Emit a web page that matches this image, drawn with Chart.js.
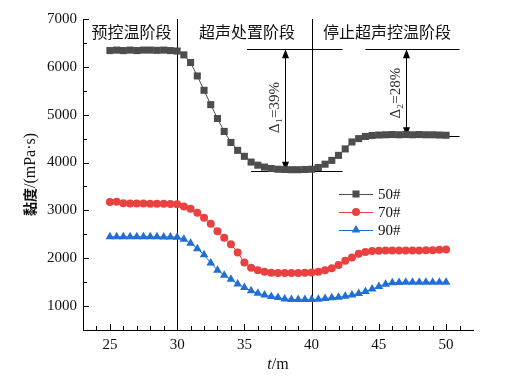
<!DOCTYPE html>
<html>
<head>
<meta charset="utf-8">
<script src="https://cdn.jsdelivr.net/npm/chart.js@4.4.1/dist/chart.umd.min.js"></script>
<style>
  html, body { margin: 0; padding: 0; background: #fff; }
  #wrap { width: 512px; height: 378px; }
</style>
</head>
<body>
<div id="wrap"><canvas id="chart"></canvas></div>
<script>
// time axis (m)
const times = [25, 25.5, 26, 26.5, 27, 27.5, 28, 28.5, 29, 29.5,
               30, 30.5, 31, 31.5, 32, 32.5, 33, 33.5, 34, 34.5,
               35, 35.5, 36, 36.5, 37, 37.5, 38, 38.5, 39, 39.5,
               40, 40.5, 41, 41.5, 42, 42.5, 43, 43.5, 44, 44.5,
               45, 45.5, 46, 46.5, 47, 47.5, 48, 48.5, 49, 49.5, 50];

// viscosity, mPa·s
const visc50 = [6340, 6350, 6340, 6350, 6340, 6350, 6350, 6345, 6350, 6340,
                6330, 6250, 6090, 5810, 5510, 5210, 4920, 4650, 4420, 4255,
                4130, 4010, 3945, 3905, 3875, 3860, 3855, 3850, 3850, 3855,
                3860, 3895, 3965, 4045, 4150, 4285, 4430, 4500, 4545, 4565,
                4575, 4580, 4585, 4580, 4585, 4580, 4585, 4580, 4580, 4575, 4570];
const visc70 = [3175, 3180, 3150, 3145, 3145, 3145, 3140, 3140, 3140, 3135,
                3130, 3080, 3035, 2950, 2845, 2720, 2565, 2430, 2290, 2120,
                1910, 1800, 1750, 1715, 1695, 1690, 1690, 1690, 1690, 1695,
                1700, 1715, 1750, 1790, 1860, 1945, 2015, 2095, 2130, 2150,
                2155, 2160, 2160, 2160, 2160, 2160, 2160, 2165, 2165, 2175, 2185];
const visc90 = [2450, 2450, 2450, 2450, 2450, 2450, 2450, 2450, 2445, 2445,
                2440, 2395, 2315, 2200, 2075, 1900, 1750, 1645, 1560, 1460,
                1390, 1320, 1270, 1230, 1200, 1180, 1150, 1140, 1135, 1135,
                1135, 1145, 1160, 1175, 1185, 1205, 1230, 1265, 1305, 1355,
                1410, 1455, 1490, 1495, 1500, 1500, 1500, 1500, 1500, 1500, 1500];

const seriesNames = ["50#", "70#", "90#"];

// ticks
const xTicks = [25, 30, 35, 40, 45, 50];
const xMinorTicks = [24, 26, 27, 28, 29, 31, 32, 33, 34, 36, 37, 38, 39, 41, 42, 43, 44, 46, 47, 48, 49, 51];
const yTicks = [1000, 2000, 3000, 4000, 5000, 6000, 7000];
const yMinorTicks = [1500, 2500, 3500, 4500, 5500, 6500];

// stage boundaries and annotations
const stageLines = [30, 40];
const stageNames = ["预控温阶段", "超声处置阶段", "停止超声控温阶段"];
const stageLabelX = [26.6, 35.2, 45.6];
const stageLabelY = 6730;
// [x1, x2, y]
const refLines = [[35.2, 42.3, 6370], [35.5, 42.3, 3830], [44.0, 51.0, 6370], [43.9, 51.0, 4550]];
// [x, yTop, yBottom, label, labelX, labelY]
const arrows = [[38.0, 6370, 3830, "Δ₁=39%", 37.3, 5150], [47.0, 6370, 4550, "Δ₂=28%", 46.25, 5450]];

const colors = ["#4d4d4d", "#e8413f", "#1f6fd6"];
const styles = ["rect", "circle", "triangle"];
const radii = [5, 4, 5];

const serif = "'Liberation Serif', 'Times New Roman', serif";
const cjk = "'Noto Sans CJK SC', sans-serif";

function pts(ys) {
    return times.map((t, i) => ({ x: t, y: ys[i] }));
}

function marker(ctx, style, x, y, r) {
    ctx.beginPath();
    if (style === "rect") {
        const s = r * Math.SQRT1_2;
        ctx.rect(x - s, y - s, 2 * s, 2 * s);
    } else if (style === "circle") {
        ctx.arc(x, y, r, 0, Math.PI * 2);
    } else {
        ctx.moveTo(x, y - r);
        ctx.lineTo(x + r * 0.866, y + r * 0.5);
        ctx.lineTo(x - r * 0.866, y + r * 0.5);
        ctx.closePath();
    }
    ctx.fill();
}

const extras = {
    id: "extras",
    beforeDatasetsDraw(chart) {
        const ctx = chart.ctx;
        const { x, y } = chart.scales;
        const a = chart.chartArea;
        ctx.save();
        ctx.strokeStyle = "#000";
        ctx.lineWidth = 1;
        ctx.beginPath();
        // stage boundaries
        stageLines.forEach(v => {
            const px = Math.round(x.getPixelForValue(v)) + 0.5;
            ctx.moveTo(px, a.top);
            ctx.lineTo(px, a.bottom);
        });
        // inward ticks
        yTicks.forEach(v => {
            const py = Math.round(y.getPixelForValue(v)) + 0.5;
            ctx.moveTo(a.left, py); ctx.lineTo(a.left + 6, py);
        });
        yMinorTicks.forEach(v => {
            const py = Math.round(y.getPixelForValue(v)) + 0.5;
            ctx.moveTo(a.left, py); ctx.lineTo(a.left + 4, py);
        });
        xTicks.forEach(v => {
            const px = Math.round(x.getPixelForValue(v)) + 0.5;
            ctx.moveTo(px, a.bottom); ctx.lineTo(px, a.bottom - 6);
        });
        xMinorTicks.forEach(v => {
            const px = Math.round(x.getPixelForValue(v)) + 0.5;
            ctx.moveTo(px, a.bottom); ctx.lineTo(px, a.bottom - 4);
        });
        // reference lines
        refLines.forEach(([x1, x2, v]) => {
            const py = Math.round(y.getPixelForValue(v)) + 0.5;
            ctx.moveTo(x.getPixelForValue(x1), py);
            ctx.lineTo(x.getPixelForValue(x2), py);
        });
        ctx.stroke();

        // double arrows
        ctx.fillStyle = "#000";
        arrows.forEach(([xv, y1, y2, label, lx, ly]) => {
            const px = Math.round(x.getPixelForValue(xv)) + 0.5;
            const p1 = y.getPixelForValue(y1);
            const p2 = y.getPixelForValue(y2);
            ctx.beginPath();
            ctx.moveTo(px, p1 + 8); ctx.lineTo(px, p2 - 8);
            ctx.stroke();
            ctx.beginPath();
            ctx.moveTo(px, p1); ctx.lineTo(px + 3.5, p1 + 9); ctx.lineTo(px - 3.5, p1 + 9); ctx.closePath();
            ctx.moveTo(px, p2); ctx.lineTo(px + 3.5, p2 - 9); ctx.lineTo(px - 3.5, p2 - 9); ctx.closePath();
            ctx.fill();
            ctx.save();
            ctx.translate(x.getPixelForValue(lx), y.getPixelForValue(ly));
            ctx.rotate(-Math.PI / 2);
            ctx.fillStyle = "#333";
            ctx.font = "15px " + serif;
            ctx.textAlign = "center";
            ctx.textBaseline = "middle";
            ctx.fillText(label, 0, 0);
            ctx.restore();
        });

        // stage labels
        ctx.fillStyle = "#111";
        ctx.font = "16px " + cjk;
        ctx.textAlign = "center";
        ctx.textBaseline = "middle";
        stageNames.forEach((s, i) => {
            ctx.fillText(s, x.getPixelForValue(stageLabelX[i]), y.getPixelForValue(stageLabelY));
        });
        ctx.restore();
    },
    afterDraw(chart) {
        const ctx = chart.ctx;
        const a = chart.chartArea;
        ctx.save();
        // legend
        ctx.font = "15px " + serif;
        ctx.textBaseline = "middle";
        ctx.textAlign = "left";
        seriesNames.forEach((n, i) => {
            const ly = 194 + i * 18;
            ctx.strokeStyle = colors[i];
            ctx.lineWidth = 1;
            ctx.beginPath();
            ctx.moveTo(339, ly + 0.5); ctx.lineTo(373, ly + 0.5);
            ctx.stroke();
            ctx.fillStyle = colors[i];
            marker(ctx, styles[i], 356, ly, radii[i]);
            ctx.fillStyle = "#111";
            ctx.fillText(n, 378, ly + 1);
        });

        // x title: t/m
        ctx.fillStyle = "#111";
        ctx.textBaseline = "middle";
        const cx = (a.left + a.right) / 2;
        ctx.font = "italic 16px " + serif;
        const wt = ctx.measureText("t").width;
        ctx.font = "16px " + serif;
        const wr = ctx.measureText("/m").width;
        let sx = cx - (wt + wr) / 2;
        ctx.font = "italic 16px " + serif;
        ctx.fillText("t", sx, 365);
        ctx.font = "16px " + serif;
        ctx.fillText("/m", sx + wt, 365);

        // y title: 黏度/(mPa·s)
        ctx.translate(30, (a.top + a.bottom) / 2);
        ctx.rotate(-Math.PI / 2);
        ctx.font = "bold 14px " + cjk;
        const wc = ctx.measureText("黏度").width;
        ctx.font = "16px " + serif;
        const wu = ctx.measureText("/(mPa·s)").width;
        sx = -(wc + wu) / 2;
        ctx.font = "bold 14px " + cjk;
        ctx.fillText("黏度", sx, 0);
        ctx.font = "16px " + serif;
        ctx.fillText("/(mPa·s)", sx + wc, 1);
        ctx.restore();
    }
};

const allSeries = [visc50, visc70, visc90];

new Chart(document.getElementById("chart"), {
    type: "line",
    data: {
        datasets: allSeries.map((s, i) => ({
            label: seriesNames[i],
            data: pts(s),
            borderColor: colors[i],
            backgroundColor: colors[i],
            borderWidth: 1,
            pointStyle: styles[i],
            pointRadius: radii[i],
            pointBorderWidth: 0,
            pointBackgroundColor: colors[i],
            tension: 0
        }))
    },
    options: {
        responsive: true,
        maintainAspectRatio: false,
        animation: false,
        events: [],
        layout: { padding: { left: 0, right: 39, top: 19, bottom: 0 } },
        plugins: {
            legend: { display: false },
            tooltip: { enabled: false }
        },
        scales: {
            x: {
                type: "linear",
                min: 23,
                max: 52,
                afterBuildTicks: s => { s.ticks = xTicks.map(v => ({ value: v })); },
                afterFit: s => { s.height = 48; },
                grid: { display: false, drawTicks: false },
                border: { display: true, color: "#000", width: 1 },
                ticks: {
                    color: "#111",
                    padding: 6,
                    maxRotation: 0,
                    callback: v => String(v),
                    font: { family: serif, size: 15 }
                }
            },
            y: {
                min: 500,
                max: 7000,
                afterBuildTicks: s => { s.ticks = yTicks.map(v => ({ value: v })); },
                afterFit: s => { s.width = 83; },
                grid: { display: false, drawTicks: false },
                border: { display: true, color: "#000", width: 1 },
                ticks: {
                    color: "#111",
                    padding: 6,
                    callback: v => String(v),
                    font: { family: serif, size: 15 }
                }
            }
        }
    },
    plugins: [extras]
});
</script>
</body>
</html>
